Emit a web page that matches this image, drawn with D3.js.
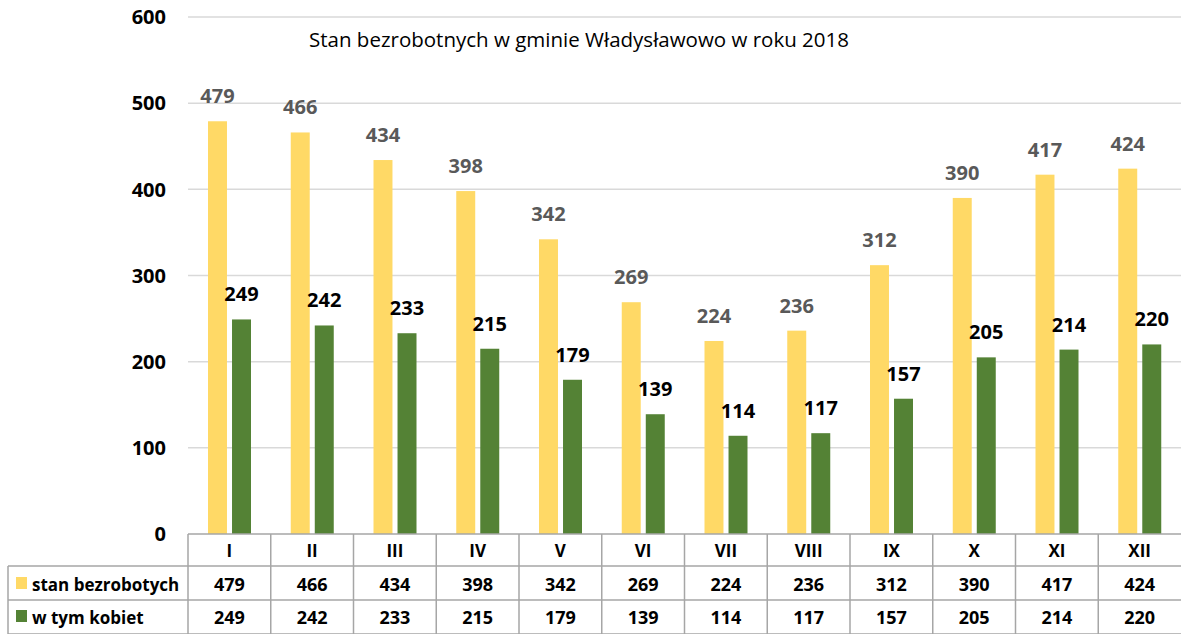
<!DOCTYPE html>
<meta charset="utf-8">
<script src="https://d3js.org/d3.v7.min.js"></script>
<style>
  body { margin: 0; background: #fff; }
  text { font-family: "Open Sans", sans-serif; }
</style>
<body>
<div id="chart"></div>
<script>
var months = ["I", "II", "III", "IV", "V", "VI", "VII", "VIII", "IX", "X", "XI", "XII"];
var seriesNames = ["stan bezrobotych", "w tym kobiet"];
var stanBezrobotnych = [479, 466, 434, 398, 342, 269, 224, 236, 312, 390, 417, 424];
var wTymKobiet = [249, 242, 233, 215, 179, 139, 114, 117, 157, 205, 214, 220];
var yTicks = [0, 100, 200, 300, 400, 500, 600];
var title = "Stan bezrobotnych w gminie Władysławowo w roku 2018";

var W = 1181, H = 634;
var plotLeft = 188, plotRight = 1181, plotTop = 17, plotBottom = 534;
var tableLeft = 8;
var rowLines = [534, 566, 600, 634];
var colors = ["#ffd966", "#548235"];
var labelColors = ["#595959", "#000000"];

var svg = d3.select("#chart").append("svg")
  .attr("width", W)
  .attr("height", H);

var x = d3.scaleBand()
  .domain(months)
  .range([plotLeft, plotRight]);

var x1 = d3.scaleBand()
  .domain(seriesNames)
  .range([20, 63])
  .paddingInner(0.21);

var y = d3.scaleLinear()
  .domain([0, 600])
  .range([plotBottom, plotTop]);

// gridlines
svg.append("g")
  .selectAll("line")
  .data(yTicks.filter(function(d) { return d > 0; }))
  .join("line")
    .attr("x1", plotLeft)
    .attr("x2", plotRight)
    .attr("y1", function(d) { return y(d); })
    .attr("y2", function(d) { return y(d); })
    .attr("stroke", "#d9d9d9")
    .attr("stroke-width", 1.5);

// y labels
svg.append("g")
  .selectAll("text")
  .data(yTicks)
  .join("text")
    .attr("x", 166)
    .attr("y", function(d) { return y(d); })
    .attr("dy", "0.36em")
    .attr("text-anchor", "end")
    .style("font-size", "20px")
    .style("font-weight", "bold")
    .text(function(d) { return d; });

// title
svg.append("text")
  .attr("x", 579)
  .attr("y", 47)
  .attr("text-anchor", "middle")
  .style("font-size", "20.5px")
  .text(title);

var data = [stanBezrobotnych, wTymKobiet];

data.forEach(function(values, si) {
  var g = svg.append("g");
  g.selectAll("rect")
    .data(values)
    .join("rect")
      .attr("x", function(d, i) { return x(months[i]) + x1(seriesNames[si]); })
      .attr("width", x1.bandwidth())
      .attr("y", function(d) { return y(d); })
      .attr("height", function(d) { return y(0) - y(d); })
      .attr("fill", colors[si]);
  g.selectAll("text")
    .data(values)
    .join("text")
      .attr("x", function(d, i) { return x(months[i]) + x1(seriesNames[si]) + x1.bandwidth() / 2; })
      .attr("y", function(d) { return y(d) - 18; })
      .attr("text-anchor", "middle")
      .style("font-size", "20px")
      .style("font-weight", "bold")
      .style("fill", labelColors[si])
      .text(function(d) { return d; });
});

// data table
var tbl = svg.append("g")
  .attr("stroke", "#a6a6a6")
  .attr("stroke-width", 1.5);

tbl.append("line")
  .attr("x1", plotLeft).attr("x2", plotRight)
  .attr("y1", rowLines[0]).attr("y2", rowLines[0]);
rowLines.slice(1).forEach(function(yy) {
  tbl.append("line")
    .attr("x1", tableLeft).attr("x2", plotRight)
    .attr("y1", yy).attr("y2", yy);
});
tbl.append("line")
  .attr("x1", tableLeft).attr("x2", tableLeft)
  .attr("y1", rowLines[1]).attr("y2", rowLines[3]);
tbl.selectAll("line.col")
  .data(months)
  .join("line")
    .attr("class", "col")
    .attr("x1", function(d) { return x(d); })
    .attr("x2", function(d) { return x(d); })
    .attr("y1", rowLines[0])
    .attr("y2", rowLines[3]);

svg.append("g")
  .selectAll("text")
  .data(months)
  .join("text")
    .attr("x", function(d) { return x(d) + x.bandwidth() / 2; })
    .attr("y", 557)
    .attr("text-anchor", "middle")
    .style("font-size", "17px")
    .style("font-weight", "bold")
    .text(function(d) { return d; });

data.forEach(function(values, si) {
  var rowY = [591, 624][si];
  svg.append("rect")
    .attr("x", 16)
    .attr("y", rowY - 14)
    .attr("width", 11)
    .attr("height", 12)
    .attr("fill", colors[si]);
  svg.append("text")
    .attr("x", 32)
    .attr("y", rowY)
    .style("font-size", "17px")
    .style("font-weight", "bold")
    .text(seriesNames[si]);
  svg.append("g")
    .selectAll("text")
    .data(values)
    .join("text")
      .attr("x", function(d, i) { return x(months[i]) + x.bandwidth() / 2; })
      .attr("y", rowY)
      .attr("text-anchor", "middle")
      .style("font-size", "18px")
      .style("font-weight", "bold")
      .text(function(d) { return d; });
});
</script>
</body>
